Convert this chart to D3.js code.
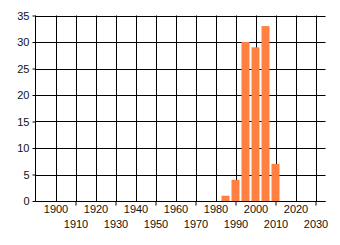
<!DOCTYPE html>
<html>
<head>
<meta charset="utf-8">
<script src="https://cdn.jsdelivr.net/npm/d3@7"></script>
<style>
  body { margin: 0; background: #fff; }
  text { font-family: "Liberation Sans", Arial, sans-serif; font-size: 11px; fill: #111; }
</style>
</head>
<body>
<div id="chartContainer"></div>
<script>
// Data: 5-year bins, centred on the year
const years = [1985, 1990, 1995, 2000, 2005, 2010];
const counts = [1, 4, 30, 29, 33, 7];
const xTicks = [1900, 1910, 1920, 1930, 1940, 1950, 1960, 1970, 1980, 1990, 2000, 2010, 2020, 2030];
const yTicks = [0, 5, 10, 15, 20, 25, 30, 35];

const width = 340;
const height = 245;
const marginTop = 15.5;
const marginBottom = 44;
const marginLeft = 35.5;
const marginRight = 14.5;

const x = d3.scaleLinear([1890, 2035], [marginLeft, width - marginRight]);
const y = d3.scaleLinear([0, 35], [height - marginBottom, marginTop]);

const svg = d3.create("svg")
  .attr("width", width)
  .attr("height", height)
  .attr("viewBox", [0, 0, width, height]);

// horizontal grid lines
svg.append("g")
  .selectAll("line")
  .data(yTicks)
  .join("line")
  .attr("x1", marginLeft)
  .attr("x2", width - marginRight)
  .attr("y1", d => Math.round(y(d)) + 0.5)
  .attr("y2", d => Math.round(y(d)) + 0.5)
  .attr("stroke", "#000");

// vertical grid lines
svg.append("g")
  .selectAll("line")
  .data(xTicks)
  .join("line")
  .attr("x1", d => Math.round(x(d)) + 0.5)
  .attr("x2", d => Math.round(x(d)) + 0.5)
  .attr("y1", marginTop)
  .attr("y2", height - marginBottom)
  .attr("stroke", "#000");

// bars
const barW = x(1894) - x(1890);
svg.append("g")
  .attr("fill", "#ff8040")
  .selectAll("rect")
  .data(years)
  .join("rect")
  .attr("x", d => x(d) - barW / 2)
  .attr("width", barW)
  .attr("y", (d, i) => y(counts[i]))
  .attr("height", (d, i) => y(0) - y(counts[i]));

// y-axis
svg.append("g")
  .attr("transform", `translate(${marginLeft},0)`)
  .call(d3.axisLeft(y).tickValues(yTicks).tickSize(3).tickPadding(3).tickFormat(d3.format("d")))
  .call(g => g.select(".domain").remove())
  .call(g => g.selectAll(".tick line").attr("stroke", "#000"))
  .call(g => g.selectAll("text").attr("font-size", null).attr("font-family", null));

svg.append("line")
  .attr("x1", marginLeft).attr("x2", marginLeft)
  .attr("y1", marginTop).attr("y2", height - marginBottom)
  .attr("stroke", "#000");

// x-axis, labels staggered on two rows
svg.append("g")
  .attr("transform", `translate(0,${height - marginBottom + 0.5})`)
  .call(d3.axisBottom(x).tickValues(xTicks).tickSize(0).tickPadding(4).tickFormat(d3.format("d")))
  .call(g => g.select(".domain").attr("d", `M${marginLeft},0H${width - marginRight}`).attr("stroke", "#000"))
  .call(g => g.selectAll("text").attr("font-size", null).attr("font-family", null))
  .call(g => g.selectAll(".tick").filter((d, i) => i % 2 == 1)
    .call(t => t.select("line").attr("y2", 4).attr("stroke", "#000"))
    .call(t => t.select("text").attr("y", 19)));

document.getElementById("chartContainer").append(svg.node());
</script>
</body>
</html>
